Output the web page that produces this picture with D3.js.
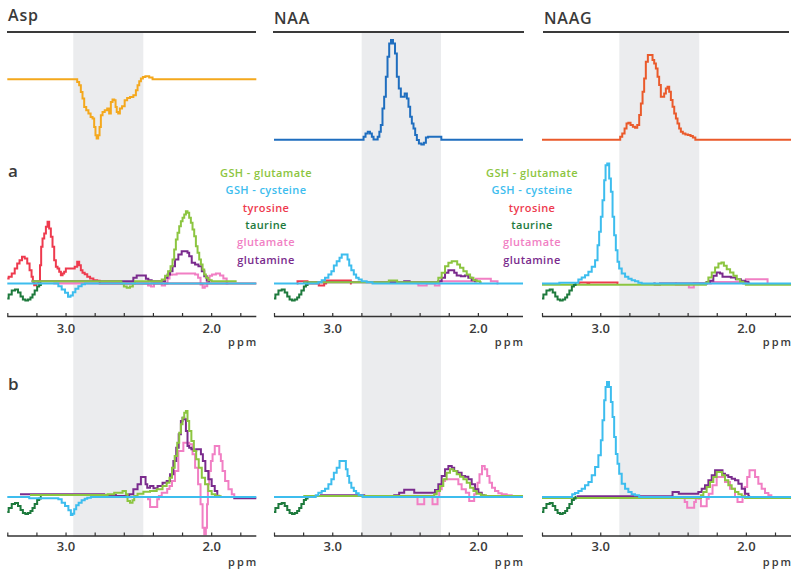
<!DOCTYPE html>
<html lang="en">
<head>
<meta charset="UTF-8">
<title>Metabolite basis fits</title>
<script src="https://cdn.jsdelivr.net/npm/d3@7"></script>
<style>
  body { margin: 0; background: #fff; }
  text { font-family: "Open Sans", sans-serif; }
</style>
</head>
<body>
<div id="chart"></div>
<script>
// ---- data (ppm, intensity a.u.) ----
const ppmTicks = [3.4, 3.2, 3.0, 2.8, 2.6, 2.4, 2.2, 2.0, 1.8];
const titles = ["Asp", "NAA", "NAAG"];
const rowLabels = ["a", "b"];
const shadeRanges = [[2.947, 2.466], [2.798, 2.253], [2.869, 2.320]];
const legendNames = ["GSH - glutamate", "GSH - cysteine", "tyrosine", "taurine", "glutamate", "glutamine"];

const asp = [[3.40,0],[2.928,0],[2.912,-2.7],[2.901,-6],[2.889,-12.7],[2.878,-19.3],[2.866,-27.7],[2.850,-31],[2.836,-34.3],[2.820,-37.7],[2.809,-39.3],[2.798,-47.7],[2.791,-56],[2.782,-59.3],[2.770,-56],[2.763,-47.7],[2.752,-36],[2.740,-32.7],[2.722,-31],[2.706,-29.3],[2.695,-34.3],[2.683,-22.7],[2.672,-20.3],[2.660,-21],[2.653,-27.7],[2.644,-32.7],[2.633,-34.3],[2.621,-29.3],[2.603,-27],[2.585,-21],[2.569,-18.7],[2.546,-17.7],[2.523,-16],[2.511,-11],[2.500,-6],[2.488,-2],[2.477,0.7],[2.461,2.3],[2.443,3],[2.408,1.7],[2.397,0],[1.69,0]];
const naa = [[3.40,0],[2.791,0],[2.779,3],[2.764,6.3],[2.748,8],[2.734,6.3],[2.722,3],[2.711,0.3],[2.695,0.3],[2.681,3],[2.672,8],[2.661,14.7],[2.649,31.3],[2.638,43],[2.626,63],[2.615,83],[2.603,96.3],[2.590,99.7],[2.576,96.3],[2.562,86.3],[2.551,63],[2.535,51.3],[2.523,43],[2.512,43],[2.493,46.3],[2.482,41.3],[2.471,33],[2.459,23],[2.448,16.3],[2.436,11.3],[2.425,4.7],[2.413,-0.3],[2.397,-3.7],[2.379,-4.7],[2.363,-3],[2.351,2.3],[2.333,3],[2.260,3],[2.242,0],[1.69,0]];
const naag = [[3.40,0],[2.869,0],[2.857,3],[2.841,6.3],[2.825,11.3],[2.814,16.3],[2.800,17],[2.784,14.7],[2.768,13],[2.754,12],[2.738,14.7],[2.727,24.7],[2.715,36.3],[2.704,48],[2.693,61.3],[2.681,78],[2.665,84.7],[2.647,84.7],[2.635,79.7],[2.624,76.3],[2.612,71.3],[2.601,63],[2.590,54.7],[2.578,43],[2.567,43],[2.555,46.3],[2.544,51.3],[2.532,53],[2.521,48],[2.509,39.7],[2.498,33],[2.486,26.3],[2.475,21.3],[2.464,16.3],[2.452,11.3],[2.441,8],[2.425,6.3],[2.406,5.3],[2.388,4.7],[2.372,3.7],[2.356,2.3],[2.338,0],[1.69,0]];

const taurine = [[3.400,-15],[3.381,-11],[3.358,-7],[3.336,-6],[3.317,-9],[3.301,-13],[3.285,-16],[3.267,-17],[3.249,-16],[3.233,-14],[3.221,-11],[3.203,-7],[3.187,-3],[3.175,-1.5],[3.164,0]];

// row a
const cysA1 = [[3.40,0],[3.061,0],[3.038,-2.7],[3.015,-6],[2.992,-9.3],[2.974,-13.3],[2.958,-12],[2.942,-8.7],[2.923,-5.3],[2.901,-2.7],[2.878,-0.7],[2.855,0],[1.69,0]];
const tyrA1 = [[3.400,5],[3.381,6.7],[3.358,10],[3.340,15],[3.324,20],[3.308,23.3],[3.290,26.7],[3.271,25],[3.255,20],[3.239,13.3],[3.228,6.7],[3.221,1.7],[3.210,-1.7],[3.194,0],[3.180,1.7],[3.171,18.3],[3.164,36.7],[3.152,45],[3.141,50],[3.129,56.7],[3.118,61.7],[3.107,55],[3.095,46.7],[3.084,36.7],[3.072,23.3],[3.061,16.7],[3.049,15],[3.038,11.7],[3.026,8.3],[3.015,10],[3.004,11.7],[2.992,15],[2.946,15],[2.928,16.7],[2.912,21.7],[2.901,18.3],[2.889,13.3],[2.878,10.7],[2.859,9.3],[2.843,6.7],[2.820,5],[2.798,3.3],[2.768,2.7],[2.763,0],[1.69,0]];
const gshGluA1 = [[3.233,2.3],[2.626,2.3],[2.608,0],[2.591,-3],[2.569,-4.3],[2.546,-3],[2.530,0],[2.516,2.3],[2.351,2.3],[2.328,4],[2.305,7.7],[2.287,12.3],[2.271,17.3],[2.260,24],[2.248,34],[2.237,44],[2.225,50.7],[2.214,57.3],[2.202,62.3],[2.191,65.7],[2.179,69],[2.168,72.3],[2.157,70.7],[2.145,65.7],[2.134,60.7],[2.122,54],[2.111,47.3],[2.099,37.3],[2.088,30.7],[2.076,24],[2.065,19],[2.053,14],[2.042,9],[2.031,5.7],[2.008,3.3],[1.985,2.3],[1.825,2.3]];
const glnA1 = [[3.233,2.3],[2.546,2.3],[2.523,5.7],[2.500,8],[2.454,8],[2.443,4.7],[2.420,3.3],[2.397,2.3],[2.328,2.3],[2.305,5.7],[2.294,9],[2.271,12.3],[2.260,17.3],[2.237,24],[2.214,29],[2.191,32.3],[2.168,32.3],[2.157,30.7],[2.145,27.3],[2.122,20.7],[2.099,19],[2.076,17.3],[2.053,12.3],[2.042,7.3],[2.019,3],[2.008,2.3]];
const gluA1 = [[3.084,0],[2.443,0],[2.424,-2],[2.402,-3],[2.383,0],[2.351,0],[2.328,-2],[2.305,0],[2.294,5],[2.278,8.7],[2.260,9],[2.214,10],[2.122,10],[2.099,9],[2.081,5.7],[2.065,-1],[2.053,-4.3],[2.035,-2.7],[2.019,2],[2.003,7.7],[1.985,9],[1.950,10],[1.928,8],[1.905,5],[1.882,0]];

const cysA2 = [[3.40,0],[3.107,0],[3.084,1.3],[3.061,3.3],[3.038,5.7],[3.015,9],[2.997,12.3],[2.981,18],[2.958,22.3],[2.942,25.7],[2.928,29],[2.901,29],[2.889,24],[2.878,18],[2.860,13.3],[2.844,9],[2.828,5.7],[2.809,4],[2.786,2.3],[2.741,1.3],[2.706,0],[1.69,0]];
const tyrA2 = [[3.244,0],[3.233,2.3],[3.176,2.3],[3.164,0],[3.096,0],[3.089,-2],[3.061,-2],[3.050,0],[3.034,3],[2.878,3],[2.866,0]];
const gshGluA2 = [[3.199,1.3],[2.615,1.3],[2.608,3],[2.558,3],[2.551,1.3],[2.283,1.3],[2.260,5.7],[2.237,10.7],[2.214,17.3],[2.191,20.7],[2.168,22.3],[2.150,22.3],[2.134,19],[2.111,15.7],[2.088,12.3],[2.065,9],[2.042,5.7],[2.019,3.3],[1.997,2.3],[1.974,1.3]];
const glnA2 = [[3.199,1.3],[2.512,1.3],[2.500,2.3],[2.471,2.3],[2.466,1.3],[2.283,1.3],[2.260,2.3],[2.237,5.7],[2.214,10.7],[2.191,13.3],[2.168,13.3],[2.157,10.7],[2.134,8],[2.100,7.3],[2.077,8],[2.054,5.7],[2.031,3.3],[2.008,2.3]];
const gluA2 = [[2.420,0],[2.397,-2],[2.356,-2],[2.347,0],[2.301,0],[2.290,-2],[2.269,-2],[2.260,2.3],[2.020,2.3],[2.008,4.7],[1.917,4.7],[1.905,2.3],[1.871,2.3],[1.859,0]];

const cysA3 = [[3.40,0],[3.162,0.7],[3.139,4],[3.116,6],[3.093,8.3],[3.070,11.7],[3.047,16.7],[3.024,23.3],[3.013,38.3],[3.002,51.7],[2.990,66.7],[2.979,83.3],[2.967,103.3],[2.960,118.3],[2.944,120],[2.933,105],[2.921,91.7],[2.910,66.7],[2.899,48.3],[2.887,33.3],[2.876,21.7],[2.864,15],[2.841,10],[2.818,6.7],[2.796,4.7],[2.773,3.3],[2.750,2.3],[2.727,0.7],[2.704,0],[1.69,0]];
const tyrA3 = [[3.150,0],[3.139,1],[3.093,1],[3.082,0],[3.070,1],[2.887,1],[2.876,0]];
const gshGluA3 = [[3.40,-1.3],[2.280,-1.3],[2.269,1],[2.246,6],[2.223,11],[2.200,16],[2.177,20],[2.159,21],[2.143,17.7],[2.120,14.3],[2.097,11],[2.074,7.7],[2.051,4.3],[2.029,1.7],[2.006,0],[1.994,-1.3],[1.69,-1.3]];
const glnA3 = [[2.635,0],[2.617,-1],[2.594,-1],[2.585,0],[2.280,0],[2.258,1.5],[2.235,2.7],[2.212,7.7],[2.189,11],[2.166,10],[2.155,6.7],[2.120,6.7],[2.086,6],[2.052,4.3],[2.017,2.7],[1.994,1.7],[1.971,0]];
const gluA3 = [[2.486,0],[2.475,-1.3],[2.395,-1.3],[2.388,-4],[2.361,-4],[2.354,0],[2.246,0],[2.235,1.5],[2.006,1.5],[1.994,4.3],[1.857,4.3],[1.845,0]];

// row b
const cysB1 = [[3.40,0],[3.255,0],[3.244,-1.3],[3.072,-1.3],[3.061,-1.3],[3.038,-2.3],[3.015,-5.7],[2.992,-9],[2.969,-13.3],[2.958,-18],[2.946,-16.7],[2.935,-12.3],[2.919,-8.3],[2.901,-5.7],[2.878,-3.3],[2.859,-1.7],[2.843,-0.7],[2.809,0],[1.69,0]];
const gshGluB1 = [[3.244,2],[2.717,2],[2.706,2.7],[2.626,4.3],[2.591,6],[2.580,2.7],[2.569,-4],[2.546,-5.7],[2.534,-3.3],[2.523,1],[2.488,3.3],[2.443,5.3],[2.397,6],[2.351,7.7],[2.317,11],[2.294,14.3],[2.278,19.3],[2.260,29.3],[2.241,41],[2.225,54.3],[2.214,64.3],[2.202,72.7],[2.191,79.3],[2.179,84.3],[2.168,86],[2.157,76],[2.145,66],[2.127,56],[2.111,46],[2.095,37.7],[2.076,29.3],[2.053,19.3],[2.031,12.7],[2.008,6],[1.985,2.7],[1.962,1.3],[1.928,0.7]];
const glnB1 = [[3.313,2.7],[2.740,2.7],[2.729,2],[2.580,1],[2.546,2.7],[2.523,7.7],[2.488,12.7],[2.477,20],[2.454,20],[2.447,12.7],[2.431,9.3],[2.408,11],[2.385,8.7],[2.351,11],[2.317,14.3],[2.294,16],[2.271,22.7],[2.248,36],[2.232,49.3],[2.214,62.7],[2.202,76],[2.191,79.3],[2.179,77.7],[2.168,66],[2.157,51],[2.145,49.3],[2.127,47.7],[2.111,46],[2.095,47.7],[2.076,47.7],[2.065,42.7],[2.049,36],[2.031,26],[2.008,17.7],[1.985,11],[1.966,6],[1.950,1],[1.939,0],[1.847,0],[1.836,-1.3],[1.69,-1.3]];
const gluB1 = [[2.763,0],[2.443,0],[2.424,-2.3],[2.415,-10],[2.374,-10],[2.367,-2.3],[2.351,1],[2.328,4.3],[2.310,4.3],[2.294,8],[2.278,11],[2.260,16],[2.237,26],[2.214,46],[2.168,54.3],[2.134,52.7],[2.122,42.7],[2.099,29.3],[2.081,12.7],[2.065,-7.3],[2.053,-30.7],[2.042,-37.3],[2.031,-30.7],[2.026,-7.3],[2.019,12.7],[2.008,26],[1.996,36],[1.985,42.7],[1.966,51],[1.950,51],[1.939,42.7],[1.928,36],[1.916,26],[1.893,16],[1.870,7.7],[1.847,2.7],[1.836,0]];

const cysB2 = [[3.40,0],[3.120,0],[3.107,1.7],[3.084,4.3],[3.061,6],[3.038,8.3],[3.015,12.7],[2.997,17.7],[2.981,24.3],[2.958,29.3],[2.942,36],[2.912,36],[2.901,27.7],[2.889,21],[2.878,14.3],[2.860,9.3],[2.844,6],[2.828,3.7],[2.809,1.7],[2.775,0],[1.69,0]];
const gshGluB2 = [[3.199,1],[2.306,1],[2.294,2.7],[2.271,6],[2.249,11],[2.226,17.7],[2.203,24.3],[2.180,27.7],[2.157,26],[2.134,22.7],[2.111,20.3],[2.088,17.7],[2.065,14.3],[2.042,9.3],[2.019,6],[1.997,3.3],[1.962,1.7],[1.928,1],[1.69,1]];
const glnB2 = [[3.084,1.7],[2.786,1.7],[2.775,0],[2.580,0],[2.569,1.7],[2.512,4.3],[2.500,7.3],[2.443,7.3],[2.431,4.3],[2.306,4.3],[2.283,7],[2.260,12.7],[2.237,21],[2.214,27.7],[2.191,31],[2.168,29.3],[2.157,26],[2.123,24.3],[2.100,21],[2.077,20.3],[2.054,17.7],[2.031,12.7],[2.008,7.7],[1.985,4.3],[1.962,1.7],[1.951,0]];
const gluB2 = [[2.741,0],[2.420,0],[2.409,-7.3],[2.374,-7.3],[2.363,0],[2.317,0],[2.306,-7.3],[2.283,-7.3],[2.271,0],[2.260,7.7],[2.237,16],[2.214,17.7],[2.145,17.7],[2.123,12.7],[2.100,7.7],[2.065,4.3],[2.054,-4],[2.031,-4],[2.020,2.7],[2.008,7.7],[1.997,14.3],[1.981,22.7],[1.962,31],[1.944,27.7],[1.928,21],[1.912,14.3],[1.894,9.3],[1.871,6],[1.848,3.7],[1.825,2.7],[1.779,1.7],[1.756,0]];

const cysB3 = [[3.40,0],[3.200,0],[3.185,2.7],[3.162,4],[3.139,6],[3.116,8.3],[3.093,11.7],[3.070,15],[3.047,21.7],[3.024,30],[3.002,41.7],[2.990,56.7],[2.979,76.7],[2.967,96.7],[2.960,110],[2.947,115],[2.933,110],[2.921,95],[2.910,80],[2.899,60],[2.887,43],[2.876,33.3],[2.864,23.3],[2.841,13.3],[2.818,8.3],[2.796,5],[2.773,2.7],[2.750,1.7],[2.716,0],[1.69,0]];
const gshGluB3 = [[3.40,-1],[2.315,-1],[2.303,1.7],[2.281,5],[2.258,10],[2.235,15],[2.212,20],[2.189,25],[2.173,25],[2.155,21.7],[2.132,16.7],[2.109,11.7],[2.086,8.3],[2.063,5],[2.040,2.7],[2.017,0.7],[1.994,-1],[1.69,-1]];
const glnB3 = [[3.162,0.7],[2.716,0.7],[2.509,0.7],[2.498,5],[2.464,5],[2.457,3.3],[2.338,3.3],[2.315,5],[2.292,8.3],[2.269,11.7],[2.246,16.7],[2.223,21.7],[2.200,26.7],[2.166,26.7],[2.155,23.3],[2.132,21.7],[2.109,20],[2.086,18.3],[2.063,16.7],[2.040,13.3],[2.017,8.3],[1.994,3.3],[1.971,0.7]];
const gluB3 = [[2.429,0],[2.411,-5],[2.395,-10.7],[2.361,-10.7],[2.349,-5],[2.338,0],[2.315,-1.7],[2.303,-9.3],[2.274,-9.3],[2.264,-1.7],[2.246,3.3],[2.212,11.7],[2.189,20],[2.155,20],[2.132,15],[2.086,8.3],[2.063,0],[2.052,-5],[2.029,-5],[2.017,0],[1.999,10],[1.983,20],[1.967,26.7],[1.948,26.7],[1.926,20],[1.903,13.3],[1.880,8.3],[1.857,4],[1.834,1.7],[1.816,0]];

// ---- layout ----
const W = 800, H = 576;
const colX0 = [7.3, 274, 542];       // x of 3.4 ppm
const colSpan = 233;                  // 3.4 -> 1.8 ppm
const axisLen = 249;
const topBase = [79.3, 139.7, 139.7];
const rowBase = [283.5, 497];
const axisY = [316.5, 536];
const ruleX = [[7, 256], [273, 524], [543, 789]];
const legendX = [266, 532];

const colors = {
  gshGlu: "#8cc540", gshCys: "#3dbdee", tyr: "#ee3a4e",
  tau: "#1e7a3d", glu: "#f17fc4", gln: "#7a2b8d"
};
const legendKeys = ["gshGlu", "gshCys", "tyr", "tau", "glu", "gln"];
const drawOrder = ["glu", "tyr", "gln", "gshGlu", "tau", "gshCys"];
const topColors = ["#f4a81d", "#1f6ebf", "#ea5a2b"];

// tyrosine sits under the baseline in row b, so it is left out there
const rows = [
  [
    {glu: gluA1, tyr: tyrA1, gln: glnA1, gshGlu: gshGluA1, tau: taurine, gshCys: cysA1},
    {glu: gluA2, tyr: tyrA2, gln: glnA2, gshGlu: gshGluA2, tau: taurine, gshCys: cysA2},
    {glu: gluA3, tyr: tyrA3, gln: glnA3, gshGlu: gshGluA3, tau: taurine, gshCys: cysA3}
  ],
  [
    {glu: gluB1, gln: glnB1, gshGlu: gshGluB1, tau: taurine, gshCys: cysB1},
    {glu: gluB2, gln: glnB2, gshGlu: gshGluB2, tau: taurine, gshCys: cysB2},
    {glu: gluB3, gln: glnB3, gshGlu: gshGluB3, tau: taurine, gshCys: cysB3}
  ]
];
const topSpectra = [asp, naa, naag];

const svg = d3.select("#chart").append("svg")
  .attr("width", W)
  .attr("height", H);

const xs = colX0.map(x0 => d3.scaleLinear().domain([3.4, 1.8]).range([x0, x0 + colSpan]));

// grey region of the target metabolite
shadeRanges.forEach((r, i) => {
  svg.append("rect")
    .attr("x", xs[i](r[0]))
    .attr("y", 33)
    .attr("width", xs[i](r[1]) - xs[i](r[0]))
    .attr("height", 504)
    .attr("fill", "#ebecee");
});

const stepLine = (x, y) => d3.line()
  .x(d => x(d[0]))
  .y(d => y(d[1]))
  .curve(d3.curveStep);

// titles, rules and top spectra
titles.forEach((t, i) => {
  svg.append("text")
    .attr("x", ruleX[i][0] + 1)
    .attr("y", i === 0 ? 20.5 : 24)
    .attr("font-size", 16)
    .attr("font-weight", 600)
    .attr("letter-spacing", 0.8)
    .attr("fill", "#3a3a3a")
    .text(t);

  svg.append("line")
    .attr("x1", ruleX[i][0]).attr("x2", ruleX[i][1])
    .attr("y1", 32).attr("y2", 32)
    .attr("stroke", "#3a3a3a")
    .attr("stroke-width", 2);

  const y = d3.scaleLinear().domain([0, 100]).range([topBase[i], topBase[i] - 100]);
  svg.append("path")
    .attr("d", stepLine(xs[i], y)(topSpectra[i]))
    .attr("fill", "none")
    .attr("stroke", topColors[i])
    .attr("stroke-width", 2);
});

// rows a and b
rows.forEach((row, r) => {
  svg.append("text")
    .attr("x", 8)
    .attr("y", r === 0 ? 177 : 390)
    .attr("font-size", 17)
    .attr("font-weight", 600)
    .attr("fill", "#3a3a3a")
    .text(rowLabels[r]);

  const y = d3.scaleLinear().domain([0, 100]).range([rowBase[r], rowBase[r] - 100]);

  row.forEach((panel, c) => {
    const x = xs[c];
    drawOrder.filter(k => panel[k]).forEach(k => {
      svg.append("path")
        .attr("d", stepLine(x, y)(panel[k]))
        .attr("fill", "none")
        .attr("stroke", colors[k])
        .attr("stroke-width", 2);
    });

    const axis = d3.axisBottom(x)
      .tickValues(ppmTicks)
      .tickSize(-3.5)
      .tickPadding(r === 0 ? 7 : 5.5)
      .tickFormat(d => (d === 3 || d === 2) ? d.toFixed(1) : "");

    const g = svg.append("g")
      .attr("transform", `translate(0,${axisY[r]})`)
      .call(axis);
    g.select(".domain").remove();
    g.selectAll(".tick line").attr("stroke", "#333").attr("stroke-width", 1.2);
    g.selectAll(".tick text")
      .attr("font-family", "Open Sans, sans-serif")
      .attr("font-size", 13)
      .attr("font-weight", 600)
      .attr("fill", "#3a3a3a");

    g.append("line")
      .attr("x1", colX0[c]).attr("x2", colX0[c] + axisLen)
      .attr("stroke", "#333")
      .attr("stroke-width", 1.6);

    svg.append("text")
      .attr("x", colX0[c] + axisLen + 2)
      .attr("y", axisY[r] + 29.5)
      .attr("text-anchor", "end")
      .attr("font-size", 11)
      .attr("font-weight", 600)
      .attr("letter-spacing", 2)
      .attr("fill", "#3a3a3a")
      .text("ppm");
  });
});

// legends (row a, first two columns)
legendX.forEach(cx => {
  legendKeys.forEach((k, i) => {
    svg.append("text")
      .attr("x", cx)
      .attr("y", 177 + i * 17.3)
      .attr("text-anchor", "middle")
      .attr("font-size", 11)
      .attr("font-weight", 600)
      .attr("letter-spacing", 0.4)
      .attr("fill", colors[k])
      .text(legendNames[i]);
  });
});
</script>
</body>
</html>
